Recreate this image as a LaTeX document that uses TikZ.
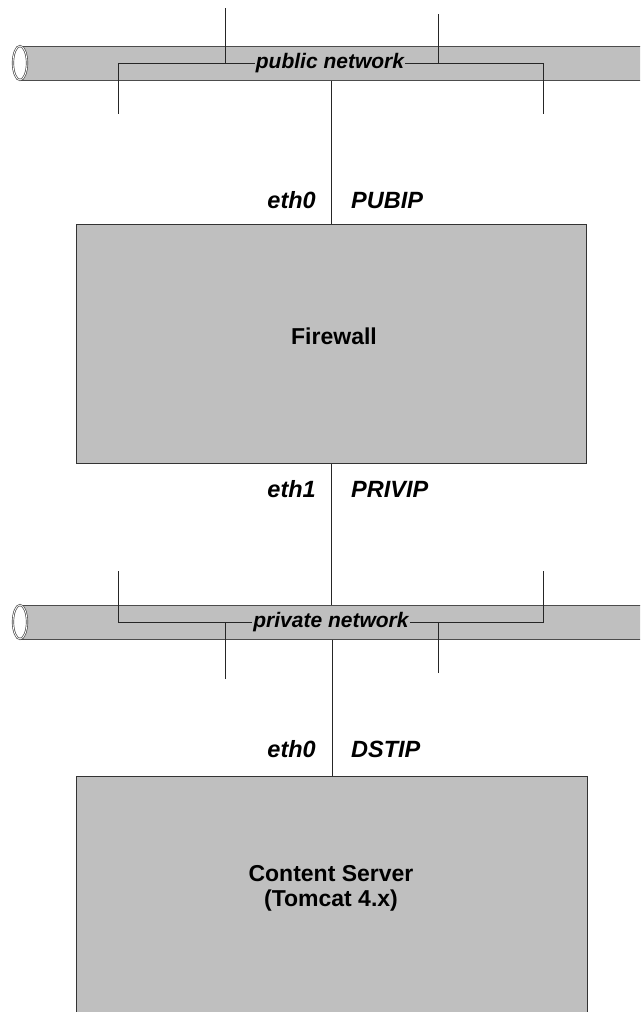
\documentclass[tikz,border=0pt]{standalone}
\usepackage{fontspec}
\setmainfont{Liberation Sans}
\usetikzlibrary{positioning}
\tikzstyle{pipe}=[draw=black!70,fill=black!25,line width=1pt,inner sep=0pt,anchor=west,minimum width=660pt,minimum height=34pt]
\tikzstyle{pipeend}=[draw=black!70,fill=white,double=white,double distance=.8pt,line width=.7pt]
\tikzstyle{host}=[draw=black!80,fill=black!25,line width=1pt,inner sep=0pt]
\tikzstyle{hosttext}=[font=\fontsize{23}{25}\selectfont\bfseries,align=center,inner sep=0pt]
\tikzstyle{net}=[font=\fontsize{21}{22}\selectfont\bfseries\itshape,inner sep=1pt]
\tikzstyle{lbl}=[font=\fontsize{23.5}{25}\selectfont\bfseries\itshape,inner sep=0pt]
\tikzstyle{wire}=[line width=.9pt,black!85]

\begin{document}
\begin{tikzpicture}[x=1pt,y=-1pt]
	\clip (0,0) rectangle (640,1012);
	% public network
	\node[pipe] (pubpipe) at (20,63) {};
	\draw[pipeend] (20,63) ellipse [x radius=7, y radius=17];
	\node[net] (pubnet) at (330,63) {public network};
	\coordinate (publ) at (118,114);
	\coordinate (pubr) at (543,114);
	\coordinate (pubul) at (225,8);
	\coordinate (pubur) at (438,14);
	\draw[wire] (pubnet.west) -| (publ);
	\draw[wire] (pubnet.east) -| (pubr);
	\draw[wire] (pubul) -- (pubul |- pubnet.west);
	\draw[wire] (pubur) -- (pubur |- pubnet.east);

	% firewall
	\node[host,minimum width=510pt,minimum height=239pt] (fw) at (331,343.5) {};
	\node[hosttext] (fwtext) at (334,336) {Firewall};
	\node[lbl,anchor=base east] (fweth0) at (316,208) {eth0};
	\node[lbl,anchor=base west] (fwpub) at (351,208) {PUBIP};
	\node[lbl,anchor=base east] (fweth1) at (316,497) {eth1};
	\node[lbl,anchor=base west] (fwpriv) at (351,497) {PRIVIP};
	\draw[wire] (pubpipe.south -| fw.north) -- (fw.north);

	% private network
	\node[pipe] (privpipe) at (20,622) {};
	\draw[pipeend] (20,622) ellipse [x radius=7, y radius=17];
	\node[net] (privnet) at (331,622) {private network};
	\coordinate (privl) at (118,571);
	\coordinate (privr) at (543,571);
	\coordinate (privdl) at (225,679);
	\coordinate (privdr) at (438,673);
	\draw[wire] (privnet.west) -| (privl);
	\draw[wire] (privnet.east) -| (privr);
	\draw[wire] (privdl) -- (privdl |- privnet.west);
	\draw[wire] (privdr) -- (privdr |- privnet.east);
	\draw[wire] (fw.south) -- (fw.south |- privpipe.north);

	% content server
	\node[host,minimum width=511pt,minimum height=300pt,anchor=north] (cs) at (332,776) {};
	\node[hosttext] (cstext) at (331,888) {Content Server\\(Tomcat 4.x)};
	\node[lbl,anchor=base east] (cseth0) at (316,757) {eth0};
	\node[lbl,anchor=base west] (csdst) at (351,757) {DSTIP};
	\draw[wire] (privpipe.south -| cs.north) -- (cs.north);
\end{tikzpicture}
\end{document}
